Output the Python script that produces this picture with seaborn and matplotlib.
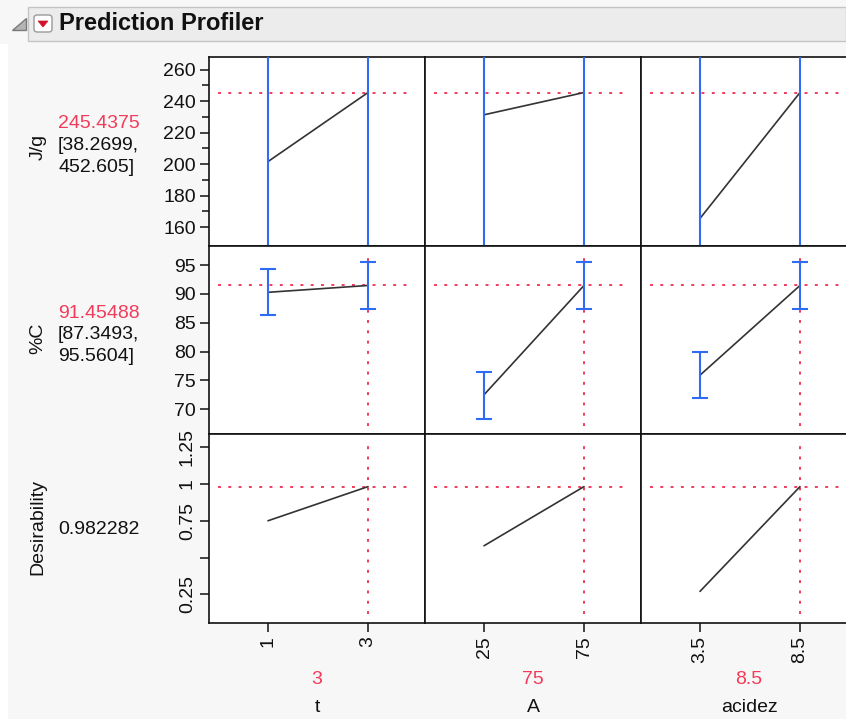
import numpy as np
import pandas as pd
import matplotlib
matplotlib.use("Agg")
import matplotlib.pyplot as plt
import seaborn as sns
from matplotlib.patches import Rectangle, Polygon, FancyBboxPatch

# ---------------- data ----------------
factors = ["t", "A", "acidez"]
factor_levels = [[1, 3], [25, 75], [3.5, 8.5]]
level_labels = [["1", "3"], ["25", "75"], ["3.5", "8.5"]]
current_values = [3, 75, 8.5]
current_labels = ["3", "75", "8.5"]

responses = ["J/g", "%C", "Desirability"]
resp_current = ["245.4375", "91.45488", "0.982282"]
resp_interval = ["[38.2699,\n452.605]", "[87.3493,\n95.5604]", ""]
resp_current_values = [245.4375, 91.45488, 0.982282]

jg_pred = [[201.6, 245.4375], [231.3, 245.4375], [165.5, 245.4375]]
jg_low = [[5.0, 38.2699], [30.0, 38.2699], [-40.0, 38.2699]]
jg_high = [[398.0, 452.605], [432.0, 452.605], [371.0, 452.605]]

pc_pred = [[90.27, 91.45488], [72.5, 91.45488], [75.9, 91.45488]]
pc_low = [[86.3, 87.3493], [68.3, 87.3493], [72.0, 87.3493]]
pc_high = [[94.3, 95.5604], [76.5, 95.5604], [80.0, 95.5604]]

des_pred = [[0.75, 0.982282], [0.58, 0.982282], [0.27, 0.982282]]

row_pred = [jg_pred, pc_pred, des_pred]
row_low = [jg_low, pc_low, None]
row_high = [jg_high, pc_high, None]

y_ticks = [[160, 180, 200, 220, 240, 260], [70, 75, 80, 85, 90, 95], [0.25, 0.5, 0.75, 1, 1.25]]
y_ticklabels = [["160", "180", "200", "220", "240", "260"],
                ["70", "75", "80", "85", "90", "95"],
                ["0.25", "", "0.75", "1", "1.25"]]
y_minor = [[170, 190, 210, 230, 250], [], []]

# ---------------- style ----------------
sns.set_style("white")
plt.rcParams["font.family"] = ["Liberation Sans", "DejaVu Sans"]

W, H = 846, 719
BG = "#f7f7f7"
RED = "#f23b5a"
BLUE = "#2f6cf5"
LINE = "#333333"

fig = plt.figure(figsize=(W / 100, H / 100), dpi=100, facecolor=BG)


def fx(x):
    return x / W


def fy(y):
    return 1 - y / H


# light strip at left
fig.patches.append(Rectangle((0, 0), fx(8), fy(44), transform=fig.transFigure,
                             facecolor="white", edgecolor="none", zorder=0))

# title bar
fig.patches.append(Rectangle((fx(28), fy(41)), fx(846) - fx(28), fy(7) - fy(41),
                             transform=fig.transFigure, facecolor="#ececec",
                             edgecolor="#c4c4c4", lw=1, zorder=1))
# disclosure triangle
fig.patches.append(Polygon([[fx(12), fy(30)], [fx(26), fy(30)], [fx(26), fy(18)]],
                           closed=True, transform=fig.transFigure,
                           facecolor="#b4b4b4", edgecolor="#7a7a7a", lw=1, zorder=2))
# red dropdown icon
fig.patches.append(FancyBboxPatch((fx(34), fy(32)), fx(52) - fx(34), fy(15) - fy(32),
                                  boxstyle="round,pad=0,rounding_size=0.004",
                                  transform=fig.transFigure, facecolor="white",
                                  edgecolor="#9a9a9a", lw=1, zorder=2))
fig.patches.append(Polygon([[fx(38), fy(21)], [fx(48), fy(21)], [fx(43), fy(27)]],
                           closed=True, transform=fig.transFigure,
                           facecolor="#d0112b", edgecolor="#d0112b", lw=0.5, zorder=3))
fig.text(fx(59), fy(24), "Prediction Profiler", fontsize=17, fontweight="bold",
         ha="left", va="center", color="#111111", zorder=3)

# panel geometry (pixels)
col_edges = [209, 425, 641, 857]
row_edges = [57, 246, 434, 622.7]
ylims = [(148, 268), (65.7, 98.3), (0.057, 1.34)]
xlims = [(-0.18, 4.14), (-4.5, 103.5), (0.55, 11.35)]

dots = (0, (1.5, 3.8))

for r in range(3):
    for c in range(3):
        x0, x1 = col_edges[c], col_edges[c + 1]
        y0, y1 = row_edges[r], row_edges[r + 1]
        ax = fig.add_axes([fx(x0), fy(y1), fx(x1) - fx(x0), fy(y0) - fy(y1)])
        ax.set_facecolor("white")
        levels = factor_levels[c]
        pred = row_pred[r][c]
        df = pd.DataFrame({"x": levels, "y": pred})

        # reference lines at current settings
        ax.axhline(resp_current_values[r], xmin=0.04, xmax=0.93, color=RED,
                   lw=1.4, ls=dots, zorder=1)
        ax.axvline(current_values[c], ymin=0.045, ymax=0.955, color=RED,
                   lw=1.4, ls=dots, zorder=1)

        sns.lineplot(data=df, x="x", y="y", ax=ax, color=LINE, lw=1.2, zorder=3)

        if row_low[r] is not None:
            lo = np.array(row_low[r][c])
            hi = np.array(row_high[r][c])
            p = np.array(pred)
            ax.errorbar(levels, p, yerr=[p - lo, hi - p], fmt="none", ecolor=BLUE,
                        elinewidth=1.5, capsize=5.5, capthick=1.5, zorder=4)

        ax.set_xlim(*xlims[c])
        ax.set_ylim(*ylims[r])
        ax.set_xlabel("")
        ax.set_ylabel("")
        for s in ax.spines.values():
            s.set_color("#111111")
            s.set_linewidth(1.2)

        if c == 0:
            ax.set_yticks(y_ticks[r])
            ax.set_yticks(y_minor[r], minor=True)
            if r == 2:
                ax.set_yticklabels(y_ticklabels[r], rotation=90, va="center")
            else:
                ax.set_yticklabels(y_ticklabels[r])
            ax.tick_params(axis="y", which="major", left=True, length=6.5, width=1.1,
                           pad=3, labelsize=14, colors="#111111")
            ax.tick_params(axis="y", which="minor", left=True, length=5, width=1.1,
                           colors="#111111")
        else:
            ax.set_yticks([])
            ax.tick_params(axis="y", which="minor", left=False)

        if r == 2:
            ax.set_xticks(levels)
            ax.set_xticklabels(level_labels[c], rotation=90)
            ax.tick_params(axis="x", bottom=True, length=6.5, width=1.1, pad=3,
                           labelsize=14, colors="#111111")
        else:
            ax.set_xticks([])

# bottom labels
for c in range(3):
    cx = (col_edges[c] + min(col_edges[c + 1], 857)) / 2
    fig.text(fx(cx), fy(680), current_labels[c], color=RED, fontsize=14,
             ha="center", va="center")
    fig.text(fx(cx), fy(708), factors[c], color="#111111", fontsize=14,
             ha="center", va="center")

# left labels
label_y = [147, 338, 527]
val_y = [124, 313, 529]
for r in range(3):
    fig.text(fx(38), fy(label_y[r]), responses[r], rotation=90, fontsize=14,
             ha="center", va="center", color="#111111")
    fig.text(fx(58), fy(val_y[r]), resp_current[r], color=RED if r < 2 else "#111111",
             fontsize=14, ha="left", va="center")
    if resp_interval[r]:
        fig.text(fx(58), fy(val_y[r] + 13), resp_interval[r], color="#111111",
                 fontsize=14, ha="left", va="top", linespacing=1.35)

fig.savefig("out.png", dpi=100, facecolor=BG)
